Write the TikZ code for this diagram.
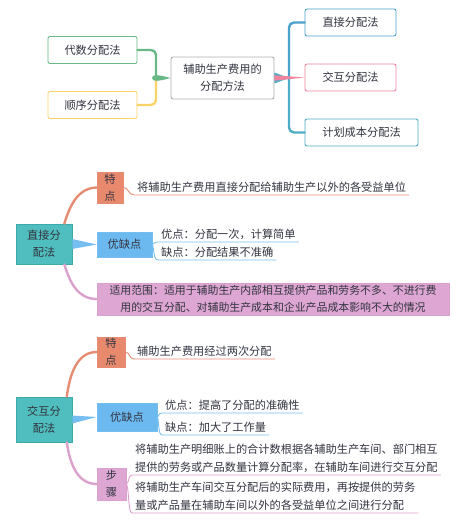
\documentclass[tikz,border=0pt]{standalone}
\usepackage{fontspec}
\setmainfont{Noto Sans CJK SC}

\newlength{\du}
\setlength{\du}{1pt}

\definecolor{inkcolor}{RGB}{50,52,64}
\definecolor{grayline}{RGB}{175,175,175}
\definecolor{algline}{RGB}{105,185,135}
\definecolor{seqline}{RGB}{250,212,105}
\definecolor{directline}{RGB}{75,162,205}
\definecolor{mutualline}{RGB}{240,132,158}
\definecolor{planline}{RGB}{80,172,198}
\definecolor{tealfill}{RGB}{80,190,190}
\definecolor{tealline}{RGB}{60,170,172}
\definecolor{salmonfill}{RGB}{232,137,110}
\definecolor{salmonline}{RGB}{230,140,115}
\definecolor{bluefill}{RGB}{108,185,240}
\definecolor{blueline}{RGB}{118,190,240}
\definecolor{violetfill}{RGB}{222,166,210}
\definecolor{violetline}{RGB}{220,160,205}

\tikzset{
  every node/.style={font=\fontsize{11.2}{17}\selectfont, text=inkcolor},
  topbox/.style={draw, rounded corners=2\du, line width=0.9\du, fill=white, minimum height=27\du, inner sep=2\du},
  catbox/.style={draw, line width=0.6\du, align=center, inner sep=1\du},
  leaf/.style={anchor=south west, inner xsep=3\du, inner ysep=2\du, align=left},
  branch/.style={line width=2.4\du, line cap=round},
  twig/.style={line width=0.9\du},
}

\begin{document}
\begin{tikzpicture}
\pgftransformxscale{1.000000}
\pgftransformyscale{-1.000000}
\useasboundingbox (0\du,0\du) rectangle (466\du,521\du);

% the overview
\node[topbox, draw=grayline, minimum width=103\du, minimum height=42\du, align=center] (main) at (222.5\du,78\du) {辅助生产费用的\\分配方法};
\node[topbox, draw=algline, minimum width=89\du] (alg) at (92.5\du,50\du) {代数分配法};
\node[topbox, draw=seqline, minimum width=89\du] (seq) at (92.5\du,105\du) {顺序分配法};
\node[topbox, draw=directline, minimum width=91\du] (direct) at (350.5\du,22.5\du) {直接分配法};
\node[topbox, draw=mutualline, minimum width=91\du] (mutual) at (350.5\du,77.5\du) {交互分配法};
\node[topbox, draw=planline, minimum width=113\du] (plan) at (361.5\du,132.5\du) {计划成本分配法};
\coordinate (hubl) at (156\du,78\du);
\coordinate (hubr) at (289\du,78\du);
{
\draw[branch, seqline, rounded corners=5\du] (seq.east) -| (hubl);
\draw[branch, algline, rounded corners=5\du] (alg.east) -| (hubl);
\fill[algline] (152\du,78\du) .. controls (152\du,74\du) and (158\du,74.5\du) .. (main.west) .. controls (158\du,81.5\du) and (152\du,82\du) .. (152\du,78\du);
}
{
\draw[branch, directline, rounded corners=5\du] (hubr) |- (direct.west);
\draw[branch, planline, rounded corners=5\du] (hubr) |- (plan.west);
\fill[planline] (main.6) -- (hubr) -- (main.-6) -- cycle;
\fill[mutualline] (main.3) -- (mutual.west) -- (main.-3) -- cycle;
}

% direct method
\node[catbox, fill=tealfill, draw=tealline, minimum width=56\du, minimum height=40\du] (dir) at (44\du,244\du) {直接分\\配法};
\node[catbox, fill=salmonfill, draw=salmonline, minimum width=26\du, minimum height=31\du] (dirf) at (110\du,187.5\du) {特\\点};
\node[catbox, fill=bluefill, draw=blueline, minimum width=55\du, minimum height=25\du] (dirp) at (124.5\du,244.5\du) {优缺点};
\node[catbox, fill=violetfill, draw=violetline, minimum width=352\du, minimum height=32\du, inner sep=0\du, font=\fontsize{10.9}{16.5}\selectfont] (dirs) at (273\du,299\du) {适用范围：适用于辅助生产内部相互提供产品和劳务不多、不进行费\\用的交互分配、对辅助生产成本和企业产品成本影响不大的情况};
\node[leaf] (dirft) at (134\du,195\du) {将辅助生产费用直接分配给辅助生产以外的各受益单位};
\node[leaf] (dira) at (158\du,242\du) {优点：分配一次，计算简单};
\node[leaf] (dird) at (158\du,260\du) {缺点：分配结果不准确};
\draw[branch, salmonline] (dir.45) .. controls (70\du,205\du) and (78\du,188\du) .. (dirf.west);
\draw[branch, violetline] (dir.-45) .. controls (70\du,283\du) and (78\du,299\du) .. (dirs.west);
\fill[blueline] (dir.10) -- (dirp.west) -- (dir.-10) -- cycle;
\draw[twig, salmonline] (dirf.east) .. controls (129\du,187.5\du) and (128\du,195\du) .. (dirft.south west) -- (dirft.south east);
\draw[twig, blueline] (dirp.east) .. controls (154\du,244\du) and (154\du,242\du) .. (dira.south west) -- (dira.south east);
\draw[twig, blueline] (dirp.east) .. controls (154\du,246\du) and (153\du,260\du) .. (dird.south west) -- (dird.south east);

% mutual method
\node[catbox, fill=tealfill, draw=tealline, minimum width=56\du, minimum height=45\du] (mut) at (44\du,419.5\du) {交互分\\配法};
\node[catbox, fill=salmonfill, draw=salmonline, minimum width=28\du, minimum height=30\du] (mutf) at (111\du,352\du) {特\\点};
\node[catbox, fill=bluefill, draw=blueline, minimum width=60\du, minimum height=28\du] (mutp) at (127\du,417\du) {优缺点};
\node[catbox, fill=violetfill, draw=violetline, minimum width=29\du, minimum height=32\du] (muts) at (111.5\du,484\du) {步\\骤};
\node[leaf] (mutft) at (134\du,359\du) {辅助生产费用经过两次分配};
\node[leaf] (muta) at (162\du,413\du) {优点：提高了分配的准确性};
\node[leaf] (mutd) at (162\du,435\du) {缺点：加大了工作量};
\node[leaf, font=\fontsize{11.2}{18}\selectfont] (mutsa) at (132\du,475\du) {将辅助生产明细账上的合计数根据各辅助生产车间、部门相互\\提供的劳务或产品数量计算分配率，在辅助车间进行交互分配};
\node[leaf, font=\fontsize{11.2}{18}\selectfont] (mutsb) at (132\du,513\du) {将辅助生产车间交互分配后的实际费用，再按提供的劳务\\量或产品量在辅助车间以外的各受益单位之间进行分配};
\draw[branch, salmonline] (mut.45) .. controls (70\du,372\du) and (78\du,352\du) .. (mutf.west);
\draw[branch, violetline] (mut.-45) .. controls (70\du,465\du) and (78\du,484\du) .. (muts.west);
\fill[blueline] (mut.8) -- (mutp.west) -- (mut.-8) -- cycle;
\draw[twig, salmonline] (mutf.east) .. controls (130\du,352\du) and (129\du,359\du) .. (mutft.south west) -- (mutft.south east);
\draw[twig, blueline] (mutp.east) .. controls (159\du,417\du) and (158\du,413\du) .. (muta.south west) -- (muta.south east);
\draw[twig, blueline] (mutp.east) .. controls (159\du,419\du) and (158\du,435\du) .. (mutd.south west) -- (mutd.south east);
\draw[twig, violetline] (muts.east) .. controls (129\du,484\du) and (128\du,475\du) .. (mutsa.south west) -- (mutsa.south east);
\draw[twig, violetline] (muts.east) .. controls (129\du,486\du) and (128\du,513\du) .. (mutsb.south west) -- (mutsb.south east);
\end{tikzpicture}
\end{document}
